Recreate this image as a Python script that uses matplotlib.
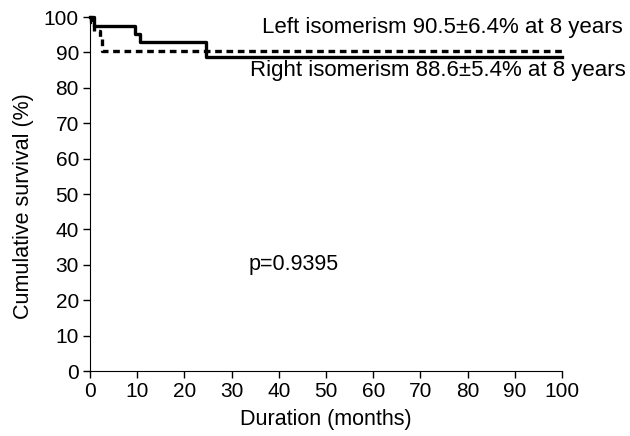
import matplotlib
matplotlib.use("Agg")
import matplotlib.pyplot as plt

plt.rcParams["font.family"] = ["Liberation Sans", "DejaVu Sans"]

# Kaplan-Meier steps (months, survival %)
left_t = [0, 0.2, 0.9, 2.0, 2.6, 100]
left_s = [100, 98.5, 96.0, 94.0, 90.5, 90.5]

right_t = [0, 0.8, 9.5, 10.5, 24.5, 100]
right_s = [100, 97.6, 95.3, 92.8, 88.6, 88.6]

left_label = "Left isomerism 90.5\u00b16.4% at 8 years"
right_label = "Right isomerism 88.6\u00b15.4% at 8 years"
p_text = "p=0.9395"

fs = 15.5

fig = plt.figure(figsize=(6.3, 4.36), dpi=100)
ax = fig.add_axes([0.143, 0.149, 0.749, 0.812])

ax.step(left_t, left_s, where="post", color="black", lw=2.4,
        linestyle=(0, (2.0, 1.4)), clip_on=False)
ax.step(right_t, right_s, where="post", color="black", lw=2.4, clip_on=False)

ax.text(36.5, 97.0, left_label, fontsize=16, va="center", ha="left", clip_on=False)
ax.text(33.9, 85.0, right_label, fontsize=16, va="center", ha="left", clip_on=False)
ax.text(33.5, 30, p_text, fontsize=fs, va="center", ha="left")

ax.set_xlim(0, 100)
ax.set_ylim(0, 100)
ax.set_xticks(range(0, 101, 10))
ax.set_yticks(range(0, 101, 10))
ax.tick_params(labelsize=15, length=5, width=1, direction="out", pad=3)
ax.spines["top"].set_visible(False)
ax.spines["right"].set_visible(False)
ax.set_xlabel("Duration (months)", fontsize=fs, labelpad=6)
ax.set_ylabel("Cumulative survival (%)", fontsize=fs)
ax.yaxis.set_label_coords(-0.118, 0.465)

fig.savefig("out.png", dpi=100)
